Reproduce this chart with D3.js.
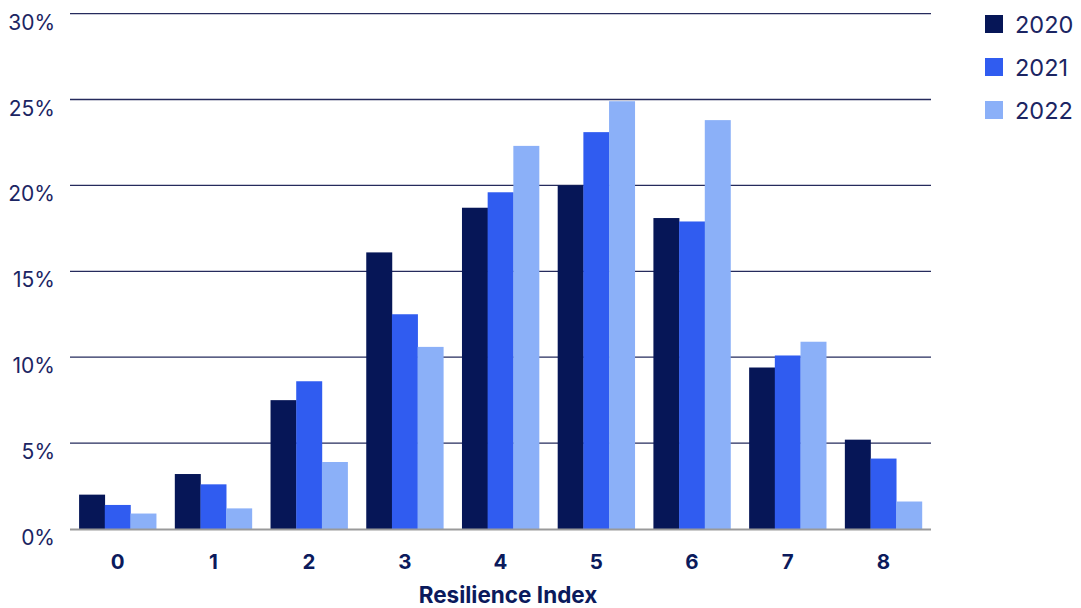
<!DOCTYPE html>
<html><head><meta charset="utf-8">
<script src="https://cdn.jsdelivr.net/npm/d3@7"></script>
<style>body{margin:0;background:#fff;}svg{display:block;font-family:Inter,"Liberation Sans",Arial,sans-serif;}</style>
</head><body><svg id="c" width="1081" height="608"></svg>
<script>
const categories = ["0","1","2","3","4","5","6","7","8"];
const seriesNames = ["2020","2021","2022"];
const v2020 = [2.0, 3.2, 7.5, 16.1, 18.7, 20.0, 18.1, 9.4, 5.2];
const v2021 = [1.4, 2.6, 8.6, 12.5, 19.6, 23.1, 17.9, 10.1, 4.1];
const v2022 = [0.9, 1.2, 3.9, 10.6, 22.3, 24.9, 23.8, 10.9, 1.6];
const yTicks = [0, 5, 10, 15, 20, 25, 30];
const colors = ["#061657", "#305cf0", "#8bb0f8"];
const series = [v2020, v2021, v2022];

const svg = d3.select("#c");
const L = 70, R = 931, T = 13.6, B = 529;
const x = d3.scaleBand().domain(categories).range([L, R]).paddingInner(0.195).paddingOuter(0.095);
const x1 = d3.scaleBand().domain(seriesNames).range([0, x.bandwidth()]);
const y = d3.scaleLinear().domain([0, 30]).range([B, T]);
const textColor = "#1b2563";

// gridlines
svg.append("g").selectAll("line").data(yTicks.filter(d => d > 0)).join("line")
  .attr("x1", L).attr("x2", R).attr("y1", d => y(d)).attr("y2", d => y(d))
  .attr("stroke", "#252b5c").attr("stroke-width", 1.3);

// y labels
svg.append("g").selectAll("text").data(yTicks).join("text")
  .attr("x", 55).attr("y", d => y(d) + 16).attr("text-anchor", "end")
  .attr("font-size", 21).attr("fill", textColor).text(d => d + "%");

// bars
const g = svg.append("g");
categories.forEach((c, i) => {
  seriesNames.forEach((s, j) => {
    g.append("rect")
      .attr("x", x(c) + x1(s)).attr("width", x1.bandwidth() + 0.3)
      .attr("y", y(series[j][i])).attr("height", B - y(series[j][i]))
      .attr("fill", colors[j]);
  });
});

// baseline
svg.append("line").attr("x1", L).attr("x2", R).attr("y1", B + 0.5).attr("y2", B + 0.5)
  .attr("stroke", "#9a9a9a").attr("stroke-width", 2);

// x labels
svg.append("g").selectAll("text").data(categories).join("text")
  .attr("x", d => x(d) + x.bandwidth() / 2).attr("y", 569).attr("text-anchor", "middle")
  .attr("font-size", 20.5).attr("font-weight", 700).attr("fill", "#0b1a5c").text(d => d);

svg.append("text").attr("x", 508).attr("y", 603).attr("text-anchor", "middle")
  .attr("font-size", 22.5).attr("font-weight", 700).attr("fill", "#0b1a5c").text("Resilience Index");

// legend
const lg = svg.append("g");
seriesNames.forEach((s, j) => {
  const cy = 24 + j * 43;
  lg.append("rect").attr("x", 985).attr("y", cy - 9).attr("width", 18).attr("height", 18).attr("fill", colors[j]);
  lg.append("text").attr("x", 1015).attr("y", cy + 9).attr("font-size", 23.5).attr("fill", textColor).text(s);
});
</script></body></html>
